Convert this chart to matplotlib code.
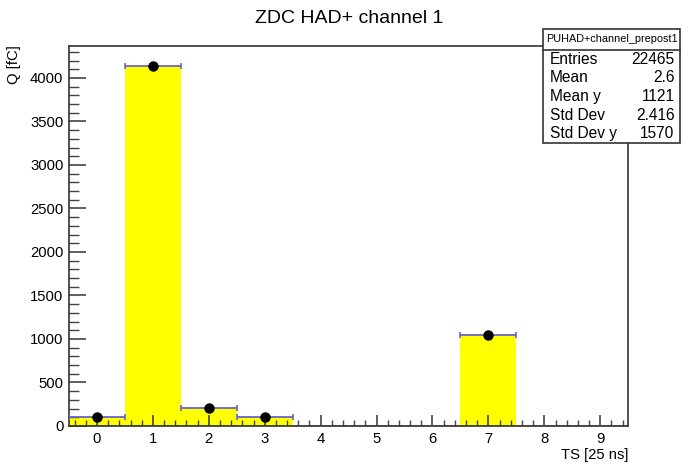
import numpy as np
import matplotlib.pyplot as plt
from matplotlib.ticker import MultipleLocator

plt.rcParams["font.family"] = ["Liberation Sans", "DejaVu Sans"]

# profile values per time slice
ts = [0, 1, 2, 3, 4, 5, 6, 7, 8, 9]
charge = [100, 4140, 207, 100, 0, 0, 0, 1045, 0, 0]
filled = [True, True, True, True, False, False, False, True, False, False]

statNames = ["Entries", "Mean", "Mean y", "Std Dev", "Std Dev y"]
statValues = ["22465", "2.6", "1121", "2.416", "1570"]

fig = plt.figure(figsize=(6.98, 4.75), dpi=100)
ax = fig.add_axes([0.0989, 0.1032, 0.8011, 0.8000])

ax.bar(ts, charge, width=1.0, color="#ffff00", linewidth=0, zorder=1)
ax.plot([-0.5, 9.5], [0, 0], color="#8c8c00", lw=1.2, zorder=2)

# horizontal error bars + markers, only for bins with entries
xs = [t for t, f in zip(ts, filled) if f]
ys = [c for c, f in zip(charge, filled) if f]
ax.errorbar(xs, ys, xerr=0.5, fmt="none", ecolor="#6666cc", elinewidth=1.3,
            capsize=2, capthick=1.2, zorder=3)
ax.plot(xs, ys, "o", color="black", ms=6.5, zorder=4)

ax.set_xlim(-0.5, 9.5)
ax.set_ylim(0, 4368)
ax.xaxis.set_major_locator(MultipleLocator(1))
ax.xaxis.set_minor_locator(MultipleLocator(0.2))
ax.yaxis.set_major_locator(MultipleLocator(500))
ax.yaxis.set_minor_locator(MultipleLocator(100))
ax.tick_params(which="both", direction="in", top=False, right=False,
               labelsize=10.7, color="#444444")
ax.tick_params(axis="x", which="major", length=8, width=1.2, pad=4)
ax.tick_params(axis="x", which="minor", length=4, width=1.0)
ax.tick_params(axis="y", which="major", length=12.5, width=1.2, pad=4)
ax.tick_params(axis="y", which="minor", length=7, width=1.0)
for s in ax.spines.values():
    s.set_linewidth(1.2)
    s.set_color("#333333")

fig.text(0.5, 0.962, "ZDC HAD+ channel 1", ha="center", va="center", fontsize=14)
fig.text(0.9, 0.042, "TS [25 ns]", ha="right", va="center", fontsize=10.7)
fig.text(0.02, 0.905, "Q [fC]", ha="center", va="top", rotation=90, fontsize=10.7)

# stats box
bx0, bx1 = 543 / 698, 680 / 698
by_top, by_hdr, by_bot = 1 - 29 / 475, 1 - 50 / 475, 1 - 143 / 475
fig.patches.append(plt.Rectangle((bx0, by_bot), bx1 - bx0, by_top - by_bot,
                                 transform=fig.transFigure, fill=True,
                                 facecolor="white", edgecolor="#333333", lw=1.2, zorder=5))
fig.lines.append(plt.Line2D([bx0, bx1], [by_hdr, by_hdr], transform=fig.transFigure,
                            color="#333333", lw=1.2, zorder=6))
fig.text((bx0 + bx1) / 2, (by_top + by_hdr) / 2, "PUHAD+channel_prepost1",
         ha="center", va="center", fontsize=7.8, zorder=7)
rowH = (by_hdr - by_bot) / len(statNames)
for i, (n, v) in enumerate(zip(statNames, statValues)):
    yy = by_hdr - rowH * (i + 0.5)
    fig.text(bx0 + 0.010, yy, n, ha="left", va="center", fontsize=11.2, zorder=7)
    fig.text(bx1 - 0.008, yy, v, ha="right", va="center", fontsize=11.2, zorder=7)

fig.savefig("out.png", dpi=100)
